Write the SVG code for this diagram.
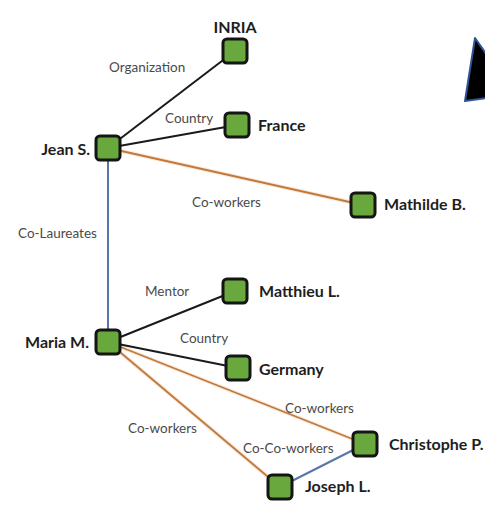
<svg xmlns="http://www.w3.org/2000/svg" width="485" height="506" viewBox="0 0 485 506">
<style>
.node rect{fill:#69a83c;stroke:#151515;stroke-width:3}
.nl{font-family:Lato,"Liberation Sans",sans-serif;font-weight:bold;font-size:16px;fill:#1e1e1e}
.el{font-family:Lato,"Liberation Sans",sans-serif;font-size:13.5px;fill:#4a4a4a}
.blk{stroke:#1a1a1a;stroke-width:2;fill:none}
.org{stroke:#c07a3e;stroke-width:1.8;fill:none}
.glow{stroke:#fbe9d8;stroke-width:4;fill:none}
.blu{stroke:#5676a8;stroke-width:2;fill:none}
</style>
<rect width="485" height="506" fill="#ffffff"/>
<polygon points="475,38 487,55 487,98 465,101" fill="#000" stroke="#2f5597" stroke-width="2" stroke-linejoin="round"/>
<g id="connectors">
<line class="glow" x1="108" y1="148" x2="363" y2="205"/>
<line class="glow" x1="108" y1="342" x2="365" y2="444"/>
<line class="glow" x1="108" y1="342" x2="280" y2="487"/>
<line class="blk" x1="108" y1="148" x2="235" y2="51"/>
<line class="blk" x1="108" y1="148" x2="237" y2="125"/>
<line class="org" x1="108" y1="148" x2="363" y2="205"/>
<line class="blu" x1="108" y1="148" x2="108" y2="342"/>
<line class="blk" x1="108" y1="342" x2="235" y2="291"/>
<line class="blk" x1="108" y1="342" x2="238" y2="368"/>
<line class="org" x1="108" y1="342" x2="365" y2="444"/>
<line class="org" x1="108" y1="342" x2="280" y2="487"/>
<line class="blu" x1="280" y1="487" x2="365" y2="444"/>
<text class="el" x="109" y="72">Organization</text>
<text class="el" x="165" y="123">Country</text>
<text class="el" x="192" y="207">Co-workers</text>
<text class="el" x="18" y="238">Co-Laureates</text>
<text class="el" x="145" y="296">Mentor</text>
<text class="el" x="180" y="343">Country</text>
<text class="el" x="128" y="433">Co-workers</text>
<text class="el" x="285" y="413">Co-workers</text>
<text class="el" x="243" y="453">Co-Co-workers</text>
</g>
<g id="n-inria" class="node"><rect x="223" y="39" width="24" height="24" rx="4"/><text class="nl" x="235" y="33" text-anchor="middle">INRIA</text></g>
<g id="n-france" class="node"><rect x="225" y="113" width="24" height="24" rx="4"/><text class="nl" x="258" y="131">France</text></g>
<g id="n-jean" class="node"><rect x="96" y="136" width="24" height="24" rx="4"/><text class="nl" x="90" y="155" text-anchor="end">Jean S.</text></g>
<g id="n-mathilde" class="node"><rect x="351" y="193" width="24" height="24" rx="4"/><text class="nl" x="384" y="210">Mathilde B.</text></g>
<g id="n-maria" class="node"><rect x="96" y="330" width="24" height="24" rx="4"/><text class="nl" x="89" y="348" text-anchor="end">Maria M.</text></g>
<g id="n-matthieu" class="node"><rect x="223" y="279" width="24" height="24" rx="4"/><text class="nl" x="259" y="297">Matthieu L.</text></g>
<g id="n-germany" class="node"><rect x="226" y="356" width="24" height="24" rx="4"/><text class="nl" x="259" y="375">Germany</text></g>
<g id="n-christophe" class="node"><rect x="353" y="432" width="24" height="24" rx="4"/><text class="nl" x="389" y="450">Christophe P.</text></g>
<g id="n-joseph" class="node"><rect x="268" y="475" width="24" height="24" rx="4"/><text class="nl" x="305" y="492">Joseph L.</text></g>
</svg>
